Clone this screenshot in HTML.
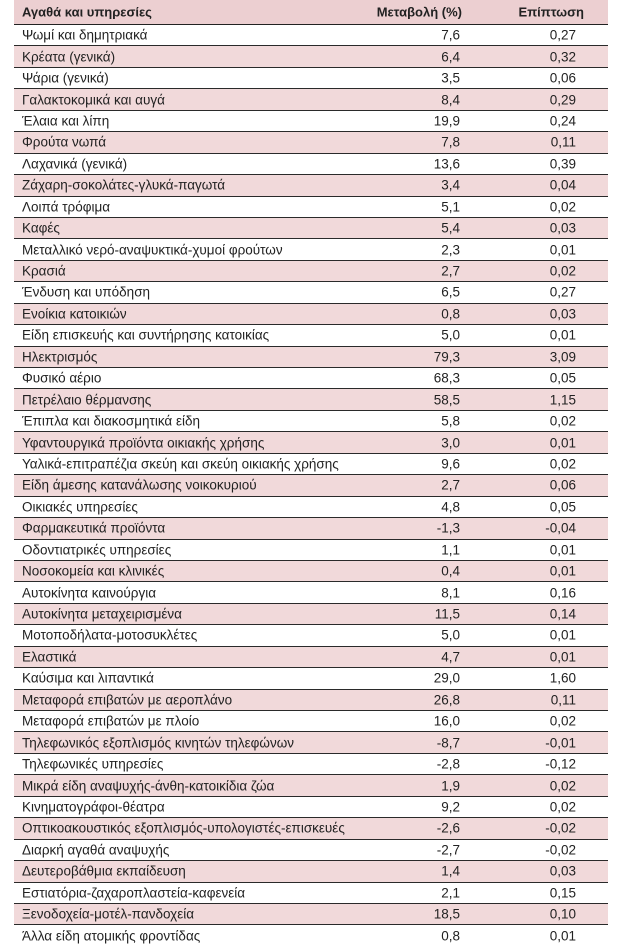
<!DOCTYPE html>
<html><head><meta charset="utf-8"><style>
html,body{margin:0;padding:0;background:#fff;width:638px;height:943px;overflow:hidden}
body{font-family:"Liberation Sans","DejaVu Sans",sans-serif;font-size:13.5px;color:#222}
.t{position:absolute;left:14px;top:0;width:594px}
.r{position:relative;height:21.45px;border-bottom:1.3px solid #2a2a2a;box-sizing:border-box}
.p{background:#f1d9da}
.h{height:25px;background:#eccfd1;font-weight:bold;border-bottom:1.6px solid #222}
.h span{font-size:13px}
.r span{position:absolute;top:50%;transform:translateY(-50%);white-space:nowrap}
.a{left:8px}.b{right:148px}.c{right:32px}
.h .b{right:146px}.h .c{right:24px}
</style></head><body>
<div class="t">
<div class="r h"><span class="a">Αγαθά και υπηρεσίες</span><span class="b">Μεταβολή (%)</span><span class="c">Επίπτωση</span></div>
<div class="r"><span class="a">Ψωμί και δημητριακά</span><span class="b">7,6</span><span class="c">0,27</span></div>
<div class="r p"><span class="a">Κρέατα (γενικά)</span><span class="b">6,4</span><span class="c">0,32</span></div>
<div class="r"><span class="a">Ψάρια (γενικά)</span><span class="b">3,5</span><span class="c">0,06</span></div>
<div class="r p"><span class="a">Γαλακτοκομικά και αυγά</span><span class="b">8,4</span><span class="c">0,29</span></div>
<div class="r"><span class="a">Έλαια και λίπη</span><span class="b">19,9</span><span class="c">0,24</span></div>
<div class="r p"><span class="a">Φρούτα νωπά</span><span class="b">7,8</span><span class="c">0,11</span></div>
<div class="r"><span class="a">Λαχανικά (γενικά)</span><span class="b">13,6</span><span class="c">0,39</span></div>
<div class="r p"><span class="a">Ζάχαρη-σοκολάτες-γλυκά-παγωτά</span><span class="b">3,4</span><span class="c">0,04</span></div>
<div class="r"><span class="a">Λοιπά τρόφιμα</span><span class="b">5,1</span><span class="c">0,02</span></div>
<div class="r p"><span class="a">Καφές</span><span class="b">5,4</span><span class="c">0,03</span></div>
<div class="r"><span class="a">Μεταλλικό νερό-αναψυκτικά-χυμοί φρούτων</span><span class="b">2,3</span><span class="c">0,01</span></div>
<div class="r p"><span class="a">Κρασιά</span><span class="b">2,7</span><span class="c">0,02</span></div>
<div class="r"><span class="a">Ένδυση και υπόδηση</span><span class="b">6,5</span><span class="c">0,27</span></div>
<div class="r p"><span class="a">Ενοίκια κατοικιών</span><span class="b">0,8</span><span class="c">0,03</span></div>
<div class="r"><span class="a">Είδη επισκευής και συντήρησης κατοικίας</span><span class="b">5,0</span><span class="c">0,01</span></div>
<div class="r p"><span class="a">Ηλεκτρισμός</span><span class="b">79,3</span><span class="c">3,09</span></div>
<div class="r"><span class="a">Φυσικό αέριο</span><span class="b">68,3</span><span class="c">0,05</span></div>
<div class="r p"><span class="a">Πετρέλαιο θέρμανσης</span><span class="b">58,5</span><span class="c">1,15</span></div>
<div class="r"><span class="a">Έπιπλα και διακοσμητικά είδη</span><span class="b">5,8</span><span class="c">0,02</span></div>
<div class="r p"><span class="a">Υφαντουργικά προϊόντα οικιακής χρήσης</span><span class="b">3,0</span><span class="c">0,01</span></div>
<div class="r"><span class="a">Υαλικά-επιτραπέζια σκεύη και σκεύη οικιακής χρήσης</span><span class="b">9,6</span><span class="c">0,02</span></div>
<div class="r p"><span class="a">Είδη άμεσης κατανάλωσης νοικοκυριού</span><span class="b">2,7</span><span class="c">0,06</span></div>
<div class="r"><span class="a">Οικιακές υπηρεσίες</span><span class="b">4,8</span><span class="c">0,05</span></div>
<div class="r p"><span class="a">Φαρμακευτικά προϊόντα</span><span class="b">-1,3</span><span class="c">-0,04</span></div>
<div class="r"><span class="a">Οδοντιατρικές υπηρεσίες</span><span class="b">1,1</span><span class="c">0,01</span></div>
<div class="r p"><span class="a">Νοσοκομεία και κλινικές</span><span class="b">0,4</span><span class="c">0,01</span></div>
<div class="r"><span class="a">Αυτοκίνητα καινούργια</span><span class="b">8,1</span><span class="c">0,16</span></div>
<div class="r p"><span class="a">Αυτοκίνητα μεταχειρισμένα</span><span class="b">11,5</span><span class="c">0,14</span></div>
<div class="r"><span class="a">Μοτοποδήλατα-μοτοσυκλέτες</span><span class="b">5,0</span><span class="c">0,01</span></div>
<div class="r p"><span class="a">Ελαστικά</span><span class="b">4,7</span><span class="c">0,01</span></div>
<div class="r"><span class="a">Καύσιμα και λιπαντικά</span><span class="b">29,0</span><span class="c">1,60</span></div>
<div class="r p"><span class="a">Μεταφορά επιβατών με αεροπλάνο</span><span class="b">26,8</span><span class="c">0,11</span></div>
<div class="r"><span class="a">Μεταφορά επιβατών με πλοίο</span><span class="b">16,0</span><span class="c">0,02</span></div>
<div class="r p"><span class="a">Τηλεφωνικός εξοπλισμός κινητών τηλεφώνων</span><span class="b">-8,7</span><span class="c">-0,01</span></div>
<div class="r"><span class="a">Τηλεφωνικές υπηρεσίες</span><span class="b">-2,8</span><span class="c">-0,12</span></div>
<div class="r p"><span class="a">Μικρά είδη αναψυχής-άνθη-κατοικίδια ζώα</span><span class="b">1,9</span><span class="c">0,02</span></div>
<div class="r"><span class="a">Κινηματογράφοι-θέατρα</span><span class="b">9,2</span><span class="c">0,02</span></div>
<div class="r p"><span class="a">Οπτικοακουστικός εξοπλισμός-υπολογιστές-επισκευές</span><span class="b">-2,6</span><span class="c">-0,02</span></div>
<div class="r"><span class="a">Διαρκή αγαθά αναψυχής</span><span class="b">-2,7</span><span class="c">-0,02</span></div>
<div class="r p"><span class="a">Δευτεροβάθμια εκπαίδευση</span><span class="b">1,4</span><span class="c">0,03</span></div>
<div class="r"><span class="a">Εστιατόρια-ζαχαροπλαστεία-καφενεία</span><span class="b">2,1</span><span class="c">0,15</span></div>
<div class="r p"><span class="a">Ξενοδοχεία-μοτέλ-πανδοχεία</span><span class="b">18,5</span><span class="c">0,10</span></div>
<div class="r" style="border-bottom:none"><span class="a">Άλλα είδη ατομικής φροντίδας</span><span class="b">0,8</span><span class="c">0,01</span></div>
</div>
</body></html>
